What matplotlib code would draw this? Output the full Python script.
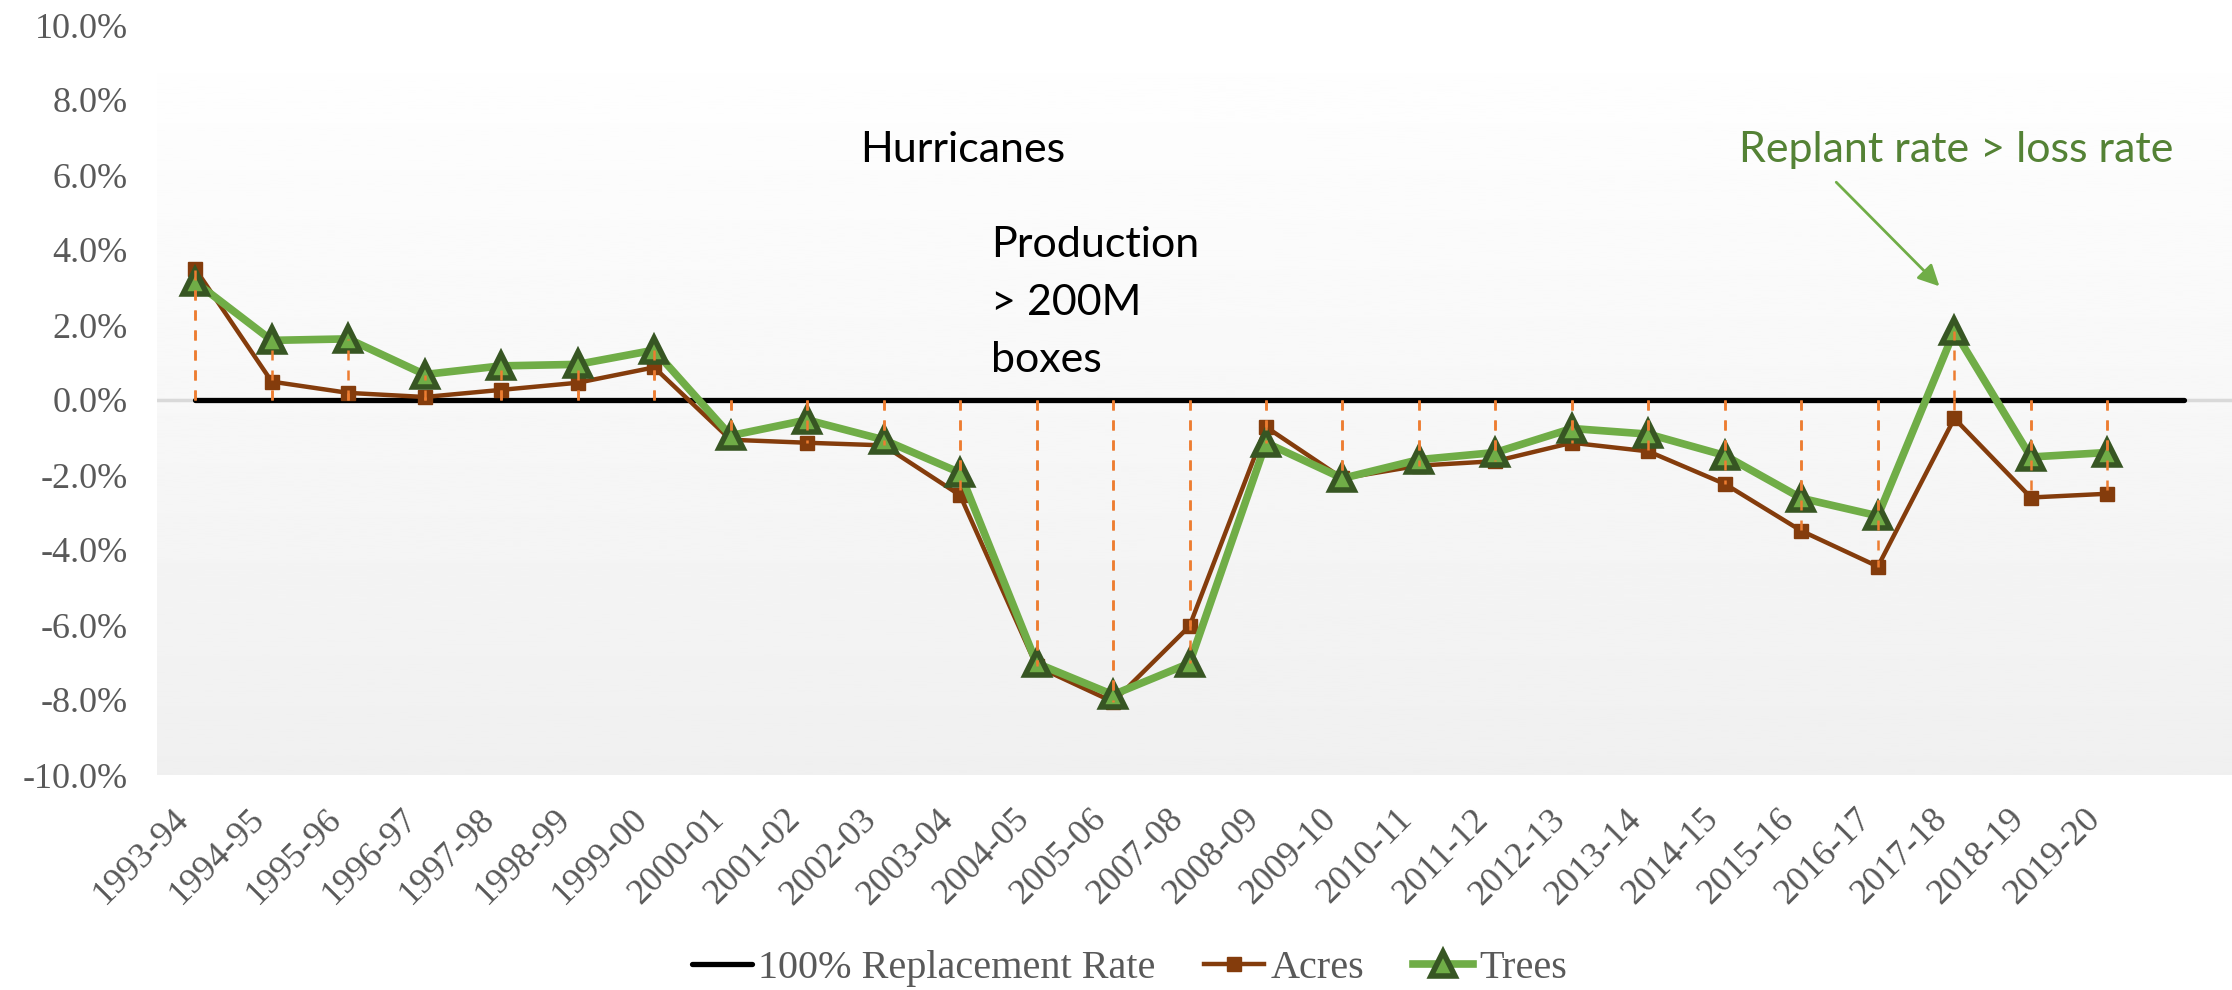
import numpy as np
from matplotlib import pyplot as plt
from matplotlib import font_manager

seasons = ['1993-94', '1994-95', '1995-96', '1996-97', '1997-98', '1998-99', '1999-00',
           '2000-01', '2001-02', '2002-03', '2003-04', '2004-05', '2005-06', '2007-08',
           '2008-09', '2009-10', '2010-11', '2011-12', '2012-13', '2013-14', '2014-15',
           '2015-16', '2016-17', '2017-18', '2018-19', '2019-20']
acres = [3.50, 0.49, 0.19, 0.08, 0.27, 0.46, 0.87, -1.06, -1.14, -1.21, -2.54, -7.10, -8.05,
         -6.03, -0.72, -2.09, -1.75, -1.63, -1.14, -1.37, -2.24, -3.49, -4.44, -0.49, -2.60, -2.50]
trees = [3.15, 1.59, 1.63, 0.68, 0.91, 0.95, 1.33, -0.95, -0.53, -1.06, -1.94, -7.02, -7.86,
         -7.02, -1.14, -2.09, -1.59, -1.40, -0.76, -0.91, -1.48, -2.62, -3.09, 1.84, -1.52, -1.40]
# flat 0% line, one extra slot past the last season like the original
replacement = [0.0] * (len(seasons) + 1)
yticks = np.arange(-10, 11, 2)

serif = ['Liberation Serif', 'DejaVu Serif']
plt.rcParams['font.family'] = serif
serif_fp = font_manager.FontProperties(family=serif, size=26)
sans = ['Lato', 'DejaVu Sans']
gray = '#595959'

fig = plt.figure(figsize=(22.32, 9.9), dpi=100)
ax = fig.add_axes([157 / 2232, 215 / 990, 1 - 157 / 2232, 750 / 990])
x = np.arange(len(seasons))
ax.set_xlim(-0.5, 26.63)
ax.set_ylim(-10, 10)

# soft vertical gradient behind the plot
grad = np.linspace(0.94, 1.0, 256).reshape(-1, 1)
ax.imshow(grad, cmap='gray', vmin=0, vmax=1, aspect='auto', origin='lower',
          extent=[-0.5, 26.63, -10, 10], zorder=0)
ax.axhline(0, color='#d9d9d9', lw=2.5, zorder=1)

ax.plot(np.arange(len(replacement)), replacement, color='black', lw=3.8,
        solid_capstyle='round', zorder=2, label='100% Replacement Rate')
ax.plot(x, acres, color='#843C0C', lw=3.2, marker='s', ms=10, mfc='#843C0C',
        mec='#843C0C', zorder=3, label='Acres')
ax.plot(x, trees, color='#70AD47', lw=5.5, marker='^', ms=17, mfc='#70AD47',
        mec='#375623', mew=4, zorder=4, label='Trees')

# drop lines from zero to each point
ax.vlines(x, 0, acres, colors='#ED7D31', linestyles=(0, (4, 4)), lw=1.8, zorder=5)
ax.vlines(x, 0, trees, colors='#ED7D31', linestyles=(0, (4, 4)), lw=1.8, zorder=5)

ax.set_yticks(yticks)
ax.set_yticklabels(['%.1f%%' % v for v in yticks], fontproperties=serif_fp, color=gray)
ax.set_xticks(x)
ax.set_xticklabels(seasons, rotation=45, ha='right', fontproperties=serif_fp, color=gray)
ax.tick_params(axis='y', length=0, pad=21)
ax.tick_params(axis='x', length=0, pad=20)
for s in ax.spines.values():
    s.set_visible(False)

ax.text(8.69, 6.34, 'Hurricanes', family=sans, fontsize=31, color='black', va='baseline')
for txt, yy in [('Production', 3.81), ('> 200M', 2.26), ('boxes', 0.75)]:
    ax.text(10.4, yy, txt, family=sans, fontsize=31, color='black', va='baseline')
ax.text(20.18, 6.34, 'Replant rate > loss rate', family=sans, fontsize=31,
        color='#548235', va='baseline')
ax.annotate('', xy=(22.83, 2.98), xytext=(21.43, 5.86),
            arrowprops=dict(arrowstyle='-|>', color='#70AD47', lw=2, mutation_scale=32))

leg = fig.legend(loc='lower center', bbox_to_anchor=(0.506, -0.034), ncol=3, frameon=False,
                 handlelength=1.5, handletextpad=0.15, columnspacing=1.2,
                 prop=font_manager.FontProperties(family=serif, size=29))
for t in leg.get_texts():
    t.set_color(gray)

plt.savefig('out.png', dpi=100)
